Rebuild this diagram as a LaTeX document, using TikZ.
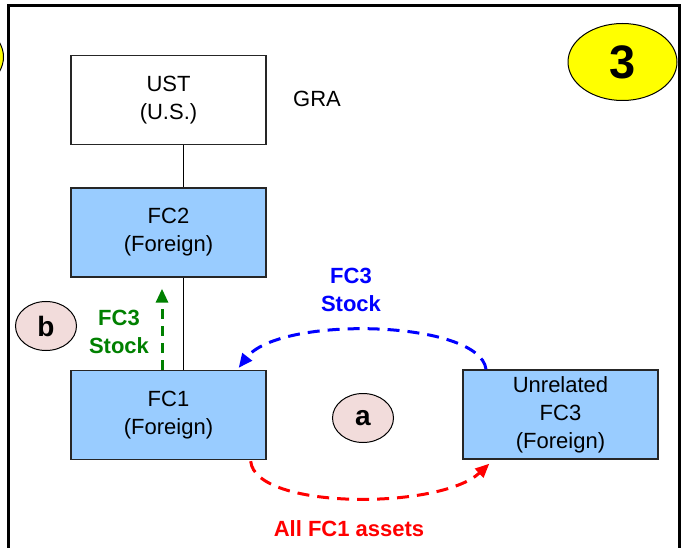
\documentclass[tikz,border=0pt]{standalone}
\usepackage{fontspec}
\setmainfont{Liberation Sans}
\usetikzlibrary{shapes.geometric,arrows.meta,calc}
\definecolor{boxblue}{HTML}{99CCFF}
\definecolor{badgepink}{HTML}{F2DCDB}
\definecolor{badgeyellow}{HTML}{FFFF00}
\definecolor{flowgreen}{HTML}{008000}
\definecolor{flowblue}{HTML}{0000FF}
\definecolor{flowred}{HTML}{FF0000}
\begin{document}
\begin{tikzpicture}[x=1pt,y=-1pt,
  box/.style={draw=black!85, line width=1.4pt, minimum width=195pt, minimum height=89pt,
    inner sep=0pt, align=center, font=\fontsize{22}{28}\selectfont},
  plainbox/.style={box, fill=white},
  bluebox/.style={box, fill=boxblue},
  lbl/.style={align=center, inner sep=0pt, font=\fontsize{22}{28}\selectfont\bfseries},
  badge/.style={ellipse, draw, line width=1pt, fill=badgepink, minimum width=61pt,
    minimum height=49pt, inner sep=0pt, font=\fontsize{28}{30}\selectfont\bfseries},
  bigbadge/.style={ellipse, draw, line width=1pt, fill=badgeyellow, minimum width=109pt,
    minimum height=77pt, inner sep=0pt, font=\fontsize{47}{50}\selectfont\bfseries},
  link/.style={draw=black, line width=1pt},
  flow/.style={line width=3pt, dash pattern=on 12pt off 8pt,
    -{Triangle[length=14pt,width=12pt]}},
  frame/.style={line width=3pt}
]
\useasboundingbox (0,0) rectangle (683,548);
\clip (0,0) rectangle (683,548);

% frame
\draw[frame] (8.5,560) -- (8.5,5.5) -- (679,5.5) -- (679,560);

% partial badge at left edge
\node[bigbadge] (prev) at (-51,57) {};

% badge 3
\node[bigbadge] (three) at (622.5,62) {3};

% boxes
\node[plainbox] (UST) at (168.5,100) {UST\\(U.S.)};
\node[bluebox] (FC2) at (168.5,232.5) {FC2\\(Foreign)};
\node[bluebox] (FC1) at (168.5,415) {FC1\\(Foreign)};
\node[bluebox] (FC3) at (560.5,414.5) {Unrelated\\FC3\\(Foreign)};

% GRA label
\node[font=\fontsize{22}{28}\selectfont, inner sep=0pt] (gra) at (317,99) {GRA};

% ownership lines
\draw[link] ([xshift=15pt]UST.south) -- ([xshift=15pt]FC2.north);
\draw[link] ([xshift=15pt]FC2.south) -- ([xshift=15pt]FC1.north);

% badges a, b
\node[badge] (b) at (46,326) {b};
\node[badge] (a) at (363,418) {a};

% green arrow
\draw[flow, flowgreen, dash pattern=on 10pt off 7pt, shorten >=11pt]
  ([xshift=-6.5pt]FC1.north) -- ([xshift=-6.5pt]FC2.south);
\node[lbl, text=flowgreen] (glbl) at (119,332) {FC3\\Stock};

% blue arrow
\draw[flow, flowblue] ([xshift=-74.5pt]FC3.north)
  .. controls (480,320) and (280,315) .. ([xshift=-28pt,yshift=2pt]FC1.north east);
\node[lbl, text=flowblue] (blbl) at (351,290) {FC3\\Stock};

% red arrow
\draw[flow, flowred] ([xshift=-16pt,yshift=-1pt]FC1.south east)
  .. controls (255,510) and (440,510) .. ([xshift=27pt,yshift=-4pt]FC3.south west);
\node[lbl, text=flowred] (rlbl) at (349,529) {All FC1 assets};
\end{tikzpicture}
\end{document}
